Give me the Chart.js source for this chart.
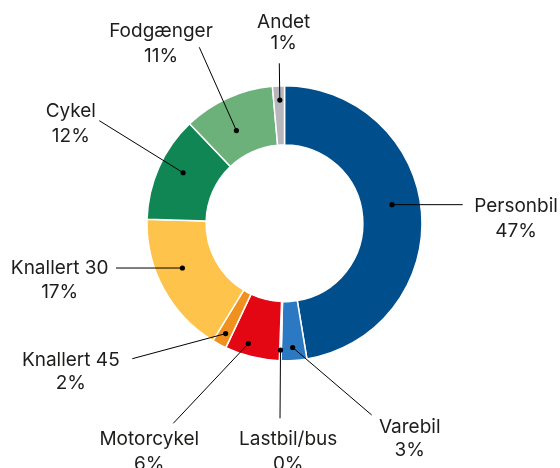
<!DOCTYPE html>
<html>
<head>
<meta charset="utf-8">
<script src="https://cdn.jsdelivr.net/npm/chart.js@4.4.1/dist/chart.umd.min.js"></script>
<style>
  html, body { margin: 0; padding: 0; background: #ffffff; }
  #wrap { width: 560px; height: 468px; position: relative; }
</style>
</head>
<body>
<div id="wrap"><canvas id="c" width="560" height="468"></canvas></div>
<script>
// ---- Data ----
const categories = ["Personbil", "Varebil", "Lastbil/bus", "Motorcykel", "Knallert 45", "Knallert 30", "Cykel", "Fodgænger", "Andet"];
const shares = [47.3, 3.0, 0.2, 6.4, 1.7, 16.7, 12.4, 10.7, 1.4];
const sliceColors = ["#004f8c", "#2a79c2", "#7f9fc0", "#e30613", "#f0901f", "#fdc34b", "#108654", "#6cb07a", "#b5b7bc"];

// ---- Label layout (annotation placement only) ----
// af: fraction along the slice angle, rf: fraction across the ring, ex/ey: leader end, cx: text centre, y1/y2: baselines
const labelLayout = [
  { af: 0.47, rf: 0.52, ex: 462.7, ey: null,  cx: 516,   y1: 211.7, y2: 236.7 },
  { af: 0.52, rf: 0.78, ex: 371.7, ey: 415,   cx: 409.7, y1: 432.7, y2: 456 },
  { af: 0.5,  rf: 0.82, ex: 280,   ey: 418.3, cx: 288.2, y1: 445,   y2: 470 },
  { af: 0.63, rf: 0.80, ex: 173.3, ey: 423.3, cx: 149.3, y1: 445,   y2: 470 },
  { af: 0.46, rf: 0.79, ex: 132.3, ey: 358.7, cx: 70.8,  y1: 365.7, y2: 389.3 },
  { af: 0.58, rf: 0.56, ex: 116,   ey: null,  cx: 59.7,  y1: 274.3, y2: 298.3 },
  { af: 0.556,rf: 0.59, ex: 99.3,  ey: 120.7, cx: 70.8,  y1: 116.7, y2: 141.7 },
  { af: 0.42, rf: 0.44, ex: 199.3, ey: 47.3,  cx: 161,   y1: 37.3,  y2: 62.3 },
  { af: 0.57, rf: 0.76, ex: 279.3, ey: 63.3,  cx: 283.7, y1: 27.7,  y2: 49 }
];

const labelPlugin = {
  id: 'leaderLabels',
  afterDatasetsDraw(chart) {
    const ctx = chart.ctx;
    const meta = chart.getDatasetMeta(0);
    ctx.save();
    meta.data.forEach((arc, i) => {
      const p = arc.getProps(['x', 'y', 'startAngle', 'endAngle', 'innerRadius', 'outerRadius'], true);
      const L = labelLayout[i];
      const a = p.startAngle + L.af * (p.endAngle - p.startAngle);
      const r = p.innerRadius + L.rf * (p.outerRadius - p.innerRadius);
      const dx = p.x + r * Math.cos(a);
      const dy = p.y + r * Math.sin(a);
      const ey = L.ey === null ? dy : L.ey;
      // leader line
      ctx.strokeStyle = '#000000';
      ctx.lineWidth = 1;
      ctx.beginPath();
      ctx.moveTo(dx, dy);
      ctx.lineTo(L.ex, ey);
      ctx.stroke();
      // dot
      ctx.fillStyle = '#000000';
      ctx.beginPath();
      ctx.arc(dx, dy, 2.6, 0, Math.PI * 2);
      ctx.fill();
      // text
      ctx.fillStyle = '#1d1d1b';
      ctx.font = '19px Inter, "Noto Sans", sans-serif';
      ctx.textAlign = 'center';
      ctx.textBaseline = 'alphabetic';
      ctx.fillText(categories[i], L.cx, L.y1);
      ctx.fillText(Math.round(shares[i]) + '%', L.cx, L.y2);
    });
    ctx.restore();
  }
};

new Chart(document.getElementById('c'), {
  type: 'doughnut',
  data: {
    labels: categories,
    datasets: [{
      data: shares,
      backgroundColor: sliceColors,
      borderColor: '#ffffff',
      borderWidth: 1.5,
      hoverOffset: 0
    }]
  },
  options: {
    responsive: false,
    animation: false,
    cutout: '57%',
    layout: { padding: { left: 146.25, right: 137.25, top: 85, bottom: 106.5 } },
    plugins: {
      legend: { display: false },
      tooltip: { enabled: false }
    }
  },
  plugins: [labelPlugin]
});
</script>
</body>
</html>
